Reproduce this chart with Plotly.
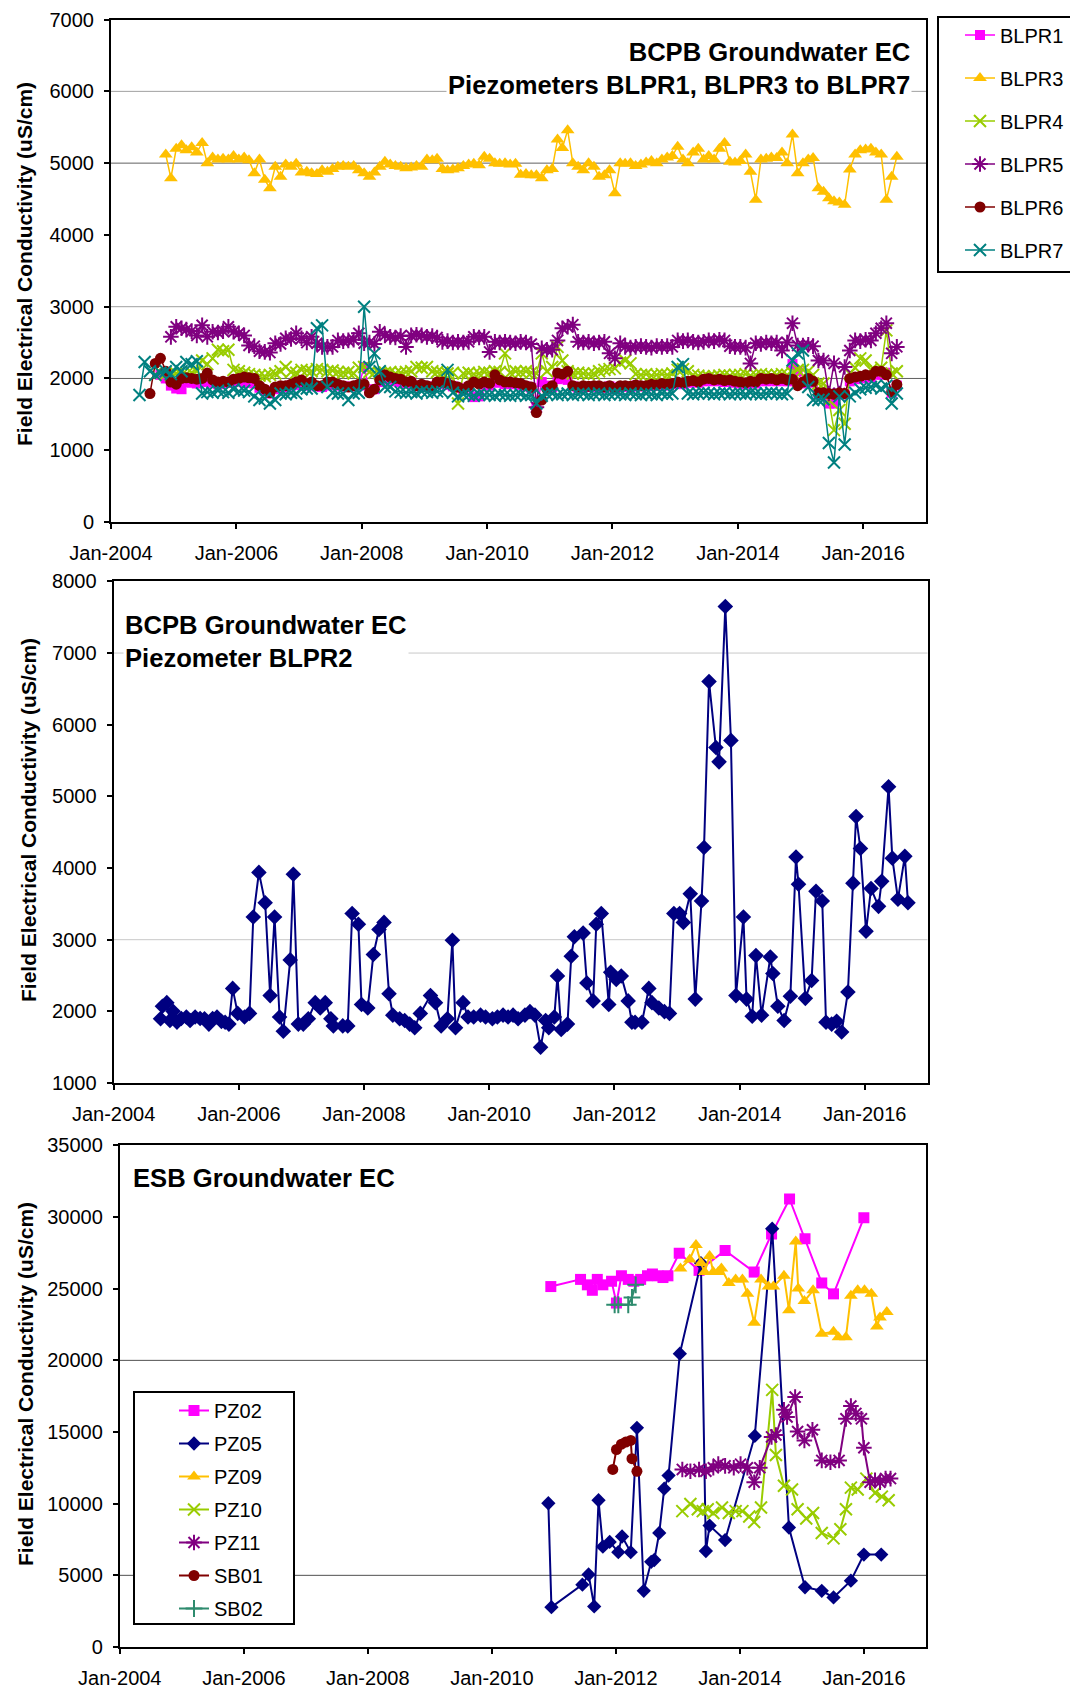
import datetime as dt

import plotly.graph_objects as go

W, H = 1070, 1688
FONT = "Liberation Sans, Arial, sans-serif"

# ---------------------------------------------------------------- data
# panel 1: BCPB piezometers, one reading a month, Jun-2004 .. Jul-2016
months_p1 = [
    f"{y}-{m:02d}-15"
    for y in range(2004, 2017)
    for m in range(1, 13)
    if (2004, 6) <= (y, m) <= (2016, 7)
]

blpr1 = [
    None, None, None, None, 2050, 2000, 1900,
    1860, 1850, 1950, 1940, 1930, 1950, 1950, 1940, 1920, 1930, 1940, 1950,
    1960, 1950, 1940, 1930, 1870, 1830, 1790, 1850, 1870, 1880, 1900, 1910,
    1920, 1900, 1910, 1890, 1880, 1900, 1910, 1900, 1890, 1880, 1890, 1900,
    2160, 1830, 1850, 1950, 1990, 1980, 1960, 1950, 1930, 1940, 1890, 1900,
    1890, 1870, 1920, 1930, 1910, 1890, 1870, 1840, 1880, 1740, 1750, 1920,
    1900, 1950, 1940, 1920, 1930, 1920, 1910, 1890, 1870, 1600, 1950, 1900,
    1880, 1990, 2000, 1980, 1890, 1870, 1880, 1880, 1890, 1880, 1870, 1890,
    1850, 1880, 1890, 1880, 1900, 1890, 1890, 1900, 1900, 1910, 1900, 1920,
    1930, 1920, 1940, 1950, 1940, 1960, 1970, 1960, 1970, 1950, 1960, 1940,
    1930, 1920, 1940, 1930, 1970, 1960, 1970, 1960, 1970, 1960, 2200, 2100,
    1930, 1960, 1940, 1780, 1780, 1650, 1650, 1780, 1780, 1960, 1990, 2000,
    2010, 2020, 2060, 2050, 2080, 1800, 1900,
]
blpr3 = [
    None, None, None, None, None, 5120, 4790,
    5200, 5250, 5180, 5220, 5150, 5280, 5000, 5080, 5050, 5060, 5050, 5100,
    5050, 5080, 5040, 4860, 5050, 4770, 4650, 4950, 4810, 4980, 4950, 4990,
    4870, 4880, 4860, 4850, 4900, 4880, 4920, 4950, 4960, 4950, 4960, 4900,
    4860, 4810, 4870, 4950, 5020, 4980, 4960, 4950, 4930, 4940, 4960, 4950,
    5050, 5040, 5060, 4920, 4900, 4910, 4930, 4960, 4980, 4990, 4970, 5090,
    5060, 5000, 4990, 5000, 4980, 4990, 4840, 4850, 4830, 4830, 4790, 4900,
    4920, 5330, 5210, 5460, 5000, 4950, 4900, 5000, 4950, 4810, 4830, 4900,
    4580, 5000, 4990, 5000, 4960, 4980, 5010, 5030, 5000, 5050, 5080, 5100,
    5230, 5050, 5000, 5150, 5200, 5050, 5100, 5050, 5200, 5280, 5020, 5010,
    5030, 5120, 4880, 4490, 5050, 5060, 5080, 5070, 5150, 5000, 5400, 4860,
    5000, 5050, 5070, 4650, 4600, 4510, 4470, 4450, 4420, 4910, 5120, 5180,
    5190, 5200, 5150, 5120, 4490, 4810, 5090,
]
blpr4 = [
    None, None, None, 2050, 2080, 2060, 2050,
    2070, 2050, 2060, 2080, 2100, 2250, 2200, 2280, 2400, 2380, 2400, 2120,
    2100, 2080, 2060, 2050, 2040, 2030, 2050, 2070, 2100, 2160, 2090, 2080,
    2120, 2110, 2100, 2130, 2120, 2100, 2110, 2090, 2080, 2090, 2070, 2150,
    2160, 2090, 2080, 2070, 2080, 2090, 2070, 2080, 2090, 2100, 2160, 2150,
    2160, 2100, 2090, 2080, 2070, 2080, 1650, 2070, 2080, 2060, 2070, 2090,
    2080, 2100, 2090, 2350, 2080, 2100, 2090, 2100, 2080, 2070, 2350, 2100,
    2160, 2440, 2250, 2100, 2070, 2080, 2070, 2060, 2070, 2100, 2120, 2130,
    2140, 2220, 2250, 2210, 2060, 2050, 2060, 2040, 2050, 2060, 2050, 2070,
    2120, 2130, 2100, 2050, 2040, 2030, 2020, 2030, 2040, 2050, 2040, 2050,
    2050, 2060, 2040, 2050, 2060, 2050, 2040, 2050, 2060, 2050, 2080, 2120,
    2120, 2100, 2050, 1930, 1930, 1700, 1280, 1560, 1370, 2070, 2150, 2280,
    2250, 2120, 2100, 2150, 2670, 2070, 2100,
]
blpr5 = [
    None, None, None, None, None, None, 2580,
    2720, 2700, 2680, 2660, 2600, 2740, 2580, 2650, 2640, 2660, 2720, 2650,
    2630, 2600, 2460, 2450, 2380, 2370, 2360, 2490, 2480, 2560, 2550, 2630,
    2560, 2500, 2580, 2490, 2440, 2440, 2440, 2530, 2520, 2530, 2540, 2630,
    2490, 2500, 2480, 2650, 2600, 2580, 2570, 2590, 2440, 2600, 2610, 2600,
    2580, 2590, 2570, 2510, 2520, 2500, 2510, 2500, 2510, 2580, 2570, 2580,
    2370, 2510, 2500, 2510, 2500, 2490, 2510, 2500, 2480, 1600, 2420, 2400,
    2400, 2530, 2700, 2720, 2750, 2510, 2500, 2510, 2490, 2500, 2510, 2350,
    2280, 2490, 2440, 2430, 2440, 2450, 2440, 2430, 2450, 2440, 2450, 2440,
    2530, 2520, 2530, 2510, 2500, 2510, 2530, 2520, 2540, 2530, 2450, 2440,
    2440, 2430, 2210, 2490, 2480, 2500, 2490, 2500, 2390, 2500, 2770, 2460,
    2460, 2470, 2450, 2250, 2250, 1790, 2210, 1790, 2160, 2390, 2530, 2520,
    2540, 2530, 2630, 2700, 2770, 2350, 2440,
]
blpr6 = [
    None, None, 1790, 2210, 2280, 2100, 1950,
    1920, 2000, 2010, 2000, 1990, 2000, 2075, 1980, 1950, 1960, 1950, 1990,
    2000, 2020, 2010, 2000, 1900, 1850, 1800, 1880, 1900, 1900, 1920, 1950,
    1980, 1920, 1950, 1900, 1900, 1950, 1950, 1920, 1900, 1880, 1900, 1920,
    1920, 1800, 1850, 1980, 2050, 2020, 2000, 1990, 1950, 1960, 1900, 1920,
    1900, 1880, 1950, 1950, 1930, 1900, 1880, 1850, 1900, 1950, 1920, 1950,
    1930, 2050, 1980, 1950, 1950, 1940, 1930, 1900, 1880, 1525, 1700, 1850,
    1900, 2075, 2060, 2100, 1900, 1880, 1900, 1890, 1900, 1900, 1880, 1900,
    1860, 1900, 1900, 1890, 1910, 1900, 1900, 1920, 1910, 1930, 1920, 1930,
    1950, 1940, 1960, 1970, 1950, 1990, 2000, 1980, 1990, 1970, 1980, 1960,
    1950, 1940, 1960, 1950, 2000, 1990, 2000, 1980, 2000, 1980, 1990, 1900,
    1950, 2000, 1960, 1800, 1800, 1790, 1780, 1800, 1790, 2000, 2020, 2030,
    2050, 2040, 2100, 2100, 2050, 1810, 1915,
]
blpr7 = [
    1770, 2230, 2100, 2050, 2080, 2100, 2060,
    2160, 2100, 2230, 2200, 2240, 1790, 1810, 1800, 1830, 1810, 1800, 1850,
    1820, 1830, 1810, 1750, 1700, 1720, 1650, 1700, 1790, 1780, 1800, 1790,
    1850, 1860, 1860, 2700, 2740, 1880, 1800, 1790, 1790, 1700, 1790, 1800,
    3000, 2160, 2350, 2100, 1880, 1880, 1820, 1810, 1800, 1810, 1790, 1820,
    1810, 1800, 1820, 1810, 2120, 1800, 1750, 1780, 1770, 1760, 1780, 1770,
    1770, 1760, 1780, 1770, 1760, 1770, 1780, 1760, 1770, 1650, 1760, 1780,
    1790, 1770, 1780, 1790, 1770, 1780, 1790, 1770, 1780, 1790, 1770, 1780,
    1790, 1780, 1770, 1790, 1780, 1770, 1790, 1780, 1770, 1790, 1780, 1790,
    2160, 2200, 1790, 1780, 1790, 1800, 1790, 1780, 1790, 1800, 1780, 1790,
    1790, 1780, 1800, 1790, 1780, 1790, 1800, 1790, 1780, 1790, 2250, 2350,
    2390, 1880, 1700, 1700, 1710, 1100, 830, 1750, 1080, 1750, 1800, 1850,
    1870, 1880, 1900, 1860, 1900, 1650, 1790,
]

# panel 2: BLPR2, sample times as decimal years
blpr2_t = [
    2004.75, 2004.78, 2004.85, 2004.90, 2004.95, 2005.01, 2005.08, 2005.16,
    2005.22, 2005.30, 2005.38, 2005.45, 2005.52, 2005.58, 2005.65, 2005.72,
    2005.78, 2005.84, 2005.90, 2005.98, 2006.09, 2006.17, 2006.23, 2006.32,
    2006.42, 2006.50, 2006.57, 2006.65, 2006.71, 2006.82, 2006.87, 2006.95,
    2007.03, 2007.11, 2007.22, 2007.30, 2007.38, 2007.47, 2007.51, 2007.66,
    2007.74, 2007.81, 2007.91, 2007.96, 2008.06, 2008.15, 2008.24, 2008.32,
    2008.40, 2008.46, 2008.57, 2008.65, 2008.73, 2008.81, 2008.90, 2009.06,
    2009.14, 2009.23, 2009.33, 2009.41, 2009.46, 2009.58, 2009.66, 2009.75,
    2009.86, 2009.94, 2010.05, 2010.13, 2010.22, 2010.30, 2010.38, 2010.46,
    2010.57, 2010.65, 2010.73, 2010.82, 2010.90, 2010.95, 2011.04, 2011.09,
    2011.15, 2011.25, 2011.31, 2011.36, 2011.50, 2011.56, 2011.66, 2011.71,
    2011.79, 2011.91, 2011.94, 2012.03, 2012.11, 2012.22, 2012.28, 2012.33,
    2012.44, 2012.55, 2012.60, 2012.71, 2012.80, 2012.88, 2012.95, 2013.04,
    2013.10, 2013.21, 2013.29, 2013.39, 2013.43, 2013.51, 2013.62, 2013.67,
    2013.77, 2013.86, 2013.94, 2014.06, 2014.11, 2014.20, 2014.26, 2014.35,
    2014.49, 2014.53, 2014.61, 2014.71, 2014.81, 2014.90, 2014.94, 2015.05,
    2015.15, 2015.22, 2015.32, 2015.38, 2015.47, 2015.55, 2015.63, 2015.73,
    2015.81, 2015.86, 2015.93, 2016.02, 2016.10, 2016.22, 2016.27, 2016.38,
    2016.44, 2016.53, 2016.64, 2016.69,
]
blpr2 = [
    1897, 2071, 2121, 1872, 2000, 1850, 1900, 1922,
    1872, 1922, 1900, 1897, 1822, 1900, 1922, 1860,
    1847, 1822, 2320, 1971, 1922, 1971, 3316, 3939,
    3515, 2220, 3316, 1922, 1722, 2718, 3914, 1822,
    1822, 1897, 2121, 2046, 2121, 1897, 1797, 1797,
    1797, 3366, 3216, 2096, 2046, 2793, 3142, 3241,
    2245, 1947, 1897, 1872, 1822, 1772, 1971, 2220,
    2121, 1797, 1897, 2992, 1772, 2121, 1922, 1922,
    1947, 1922, 1897, 1922, 1947, 1922, 1947, 1897,
    1947, 1996, 1947, 1498, 1872, 1772, 1922, 2494,
    1747, 1822, 2768, 3042, 3092, 2395, 2146, 3216,
    3366, 2096, 2544, 2445, 2494, 2146, 1847, 1847,
    1847, 2320, 2121, 2046, 1996, 1971, 3366, 3366,
    3241, 3640, 2171, 3540, 4287, 6603, 5682, 5482,
    7649, 5781, 2220, 3316, 2171, 1932, 2778, 1947,
    2758, 2529, 2071, 1872, 2210, 4153, 3774, 2181,
    2430, 3675, 3540, 1847, 1822, 1862, 1712, 2270,
    3789, 4720, 4272, 3117, 3714, 3465, 3814, 5134,
    4138, 3565, 4163, 3515,
]

# panel 3: ESB piezometers / bores
pz02_t = [2010.95, 2011.43, 2011.54, 2011.62, 2011.70, 2011.79, 2011.93, 2012.01, 2012.09,
          2012.20, 2012.29, 2012.40, 2012.51, 2012.59, 2012.68, 2012.76, 2012.84, 2013.02,
          2013.34, 2013.76, 2014.23, 2014.51, 2014.80, 2015.05, 2015.32, 2015.51, 2016.00]
pz02 = [25150, 25650, 25270, 24890, 25650, 25270, 25520, 24000, 25900,
        25650, 25520, 25650, 25900, 26030, 25900, 25780, 25900, 27470,
        26280, 27670, 26160, 28810, 31260, 28480, 25400, 24640, 29950]

pz05_t = [2010.91, 2010.96, 2011.46, 2011.56, 2011.65, 2011.72, 2011.79, 2011.90, 2012.04,
          2012.10, 2012.24, 2012.34, 2012.45, 2012.57, 2012.62, 2012.70, 2012.78, 2012.85,
          2013.03, 2013.37, 2013.45, 2013.51, 2013.76, 2014.24, 2014.52, 2014.79, 2015.05,
          2015.32, 2015.51, 2015.79, 2016.00, 2016.28]
pz05 = [10030, 2780, 4350, 5060, 2830, 10240, 7000, 7330, 6620,
        7710, 6620, 15290, 3920, 5940, 6070, 7960, 11050, 11960,
        20470, 26790, 6700, 8470, 7460, 14730, 29190, 8340, 4170,
        3920, 3460, 4630, 6450, 6450]

pz09_t = [2013.04, 2013.19, 2013.29, 2013.37, 2013.43, 2013.51, 2013.57, 2013.65, 2013.70,
          2013.82, 2013.93, 2014.04, 2014.12, 2014.23, 2014.34, 2014.46, 2014.54, 2014.71,
          2014.79, 2014.90, 2014.94, 2015.04, 2015.18, 2015.32, 2015.51, 2015.59, 2015.71,
          2015.79, 2015.90, 2016.01, 2016.12, 2016.21, 2016.26, 2016.37]
pz09 = [26410, 27040, 28050, 26790, 26160, 27290, 26160, 26160, 26410,
        25400, 25650, 25650, 24640, 22620, 25650, 25150, 25150, 25900,
        23500, 28300, 25020, 24140, 24890, 21860, 21990, 21610, 21610,
        24510, 24890, 24890, 24640, 22370, 23000, 23380]

pz10_t = [2013.07, 2013.20, 2013.32, 2013.40, 2013.48, 2013.57, 2013.71, 2013.82, 2013.93,
          2014.04, 2014.15, 2014.23, 2014.34, 2014.52, 2014.58, 2014.71, 2014.84, 2014.93,
          2015.07, 2015.18, 2015.32, 2015.51, 2015.62, 2015.71, 2015.79, 2015.90, 2016.04,
          2016.18, 2016.29, 2016.40]
pz10 = [9480, 9980, 9610, 9480, 9610, 9350, 9730, 9350, 9480,
        9480, 9100, 8720, 9730, 17940, 13400, 11250, 10990, 9610,
        8970, 9350, 7960, 7580, 8220, 9610, 11120, 10990, 11750,
        10740, 10490, 10240]

pz11_t = [2013.07, 2013.20, 2013.34, 2013.45, 2013.57, 2013.65, 2013.76, 2013.90, 2014.01,
          2014.12, 2014.23, 2014.32, 2014.51, 2014.58, 2014.71, 2014.76, 2014.89, 2014.93,
          2015.04, 2015.17, 2015.32, 2015.46, 2015.60, 2015.71, 2015.79, 2015.87, 2015.96,
          2016.00, 2016.10, 2016.18, 2016.26, 2016.35, 2016.43]
pz11 = [12390, 12260, 12390, 12260, 12510, 12760, 12640, 12510, 12760,
        12510, 11500, 12510, 14660, 14790, 16550, 16050, 17440, 15040,
        14410, 15160, 13020, 12890, 13020, 15920, 16810, 16300, 15920,
        13900, 11500, 11630, 11500, 11750, 11750]

sb01_t = [2011.95, 2012.01, 2012.09, 2012.16, 2012.24, 2012.26, 2012.34]
sb01 = [12390, 13780, 14150, 14300, 14410, 13140, 12260]

sb02_t = [2011.98, 2012.04, 2012.20, 2012.26, 2012.32]
sb02 = [23880, 23880, 23880, 24390, 25270]

# ---------------------------------------------------------------- styles
STYLE = {
    "BLPR1": dict(color="#FF00FF", symbol="square", size=10),
    "BLPR3": dict(color="#FFC000", symbol="triangle-up", size=12),
    "BLPR4": dict(color="#99CC00", symbol="x-thin", size=12),
    "BLPR5": dict(color="#800080", symbol="asterisk", size=13),
    "BLPR6": dict(color="#800000", symbol="circle", size=11),
    "BLPR7": dict(color="#008080", symbol="x-thin", size=12),
    "BLPR2": dict(color="#000080", symbol="diamond", size=12),
    "PZ02": dict(color="#FF00FF", symbol="square", size=11),
    "PZ05": dict(color="#000080", symbol="diamond", size=11),
    "PZ09": dict(color="#FFC000", symbol="triangle-up", size=12),
    "PZ10": dict(color="#99CC00", symbol="x-thin", size=12),
    "PZ11": dict(color="#800080", symbol="asterisk", size=13),
    "SB01": dict(color="#800000", symbol="circle", size=11),
    "SB02": dict(color="#2E8B6E", symbol="cross-thin", size=12),
}


def to_date(year):
    y = int(year)
    return dt.datetime(y, 1, 1) + dt.timedelta(days=(year - y) * 365.25)


def px(x):
    return x / W


def py(y):
    return 1 - y / H


fig = go.Figure()


def add_series(x, y, name, xa, ya, legend=None, width=1.5):
    s = STYLE[name]
    stroke = 2 if ("thin" in s["symbol"] or s["symbol"] == "asterisk") else 0
    fig.add_trace(
        go.Scatter(
            x=x,
            y=y,
            name=name,
            mode="lines+markers",
            xaxis=xa,
            yaxis=ya,
            line=dict(color=s["color"], width=width),
            marker=dict(symbol=s["symbol"], size=s["size"], color=s["color"],
                        line=dict(color=s["color"], width=stroke)),
            showlegend=legend is not None,
            legend=legend or "legend",
            legendgroup=name,
        )
    )


for name, vals in [("BLPR1", blpr1), ("BLPR3", blpr3), ("BLPR4", blpr4),
                   ("BLPR5", blpr5), ("BLPR6", blpr6), ("BLPR7", blpr7)]:
    add_series(months_p1, vals, name, "x", "y", legend="legend")

add_series([to_date(t) for t in blpr2_t], blpr2, "BLPR2", "x2", "y2", width=2)

for name, ts, vals in [("PZ02", pz02_t, pz02), ("PZ05", pz05_t, pz05), ("PZ09", pz09_t, pz09),
                       ("PZ10", pz10_t, pz10), ("PZ11", pz11_t, pz11), ("SB01", sb01_t, sb01),
                       ("SB02", sb02_t, sb02)]:
    add_series([to_date(t) for t in ts], vals, name, "x3", "y3", legend="legend2", width=2)

tickfont = dict(family=FONT, size=20, color="black")
frame = dict(showline=True, linecolor="black", linewidth=2, mirror=True, ticks="outside",
             ticklen=5, tickwidth=1.5, tickcolor="black", showgrid=False, zeroline=False,
             tickfont=tickfont)
xdate = dict(type="date", range=["2004-01-01", "2017-01-01"], tick0="2004-01-01", dtick="M24",
             tickformat="%b-%Y", ticklabelstandoff=7, **frame)
yval = dict(tickformat="d", ticklabelstandoff=6, **frame)

fig.update_layout(
    width=W,
    height=H,
    margin=dict(l=0, r=0, t=0, b=0, autoexpand=False),
    paper_bgcolor="white",
    plot_bgcolor="white",
    font=dict(family=FONT, color="black"),
    xaxis=dict(domain=[px(111), px(926)], anchor="y", **xdate),
    yaxis=dict(domain=[py(522), py(19.6)], anchor="x", range=[0, 7000], dtick=1000, **yval),
    xaxis2=dict(domain=[px(113.6), px(927.5)], anchor="y2", **xdate),
    yaxis2=dict(domain=[py(1083), py(581.4)], anchor="x2", range=[1000, 8000], dtick=1000, **yval),
    xaxis3=dict(domain=[px(119.8), px(926)], anchor="y3", **xdate),
    yaxis3=dict(domain=[py(1647), py(1145.4)], anchor="x3", range=[0, 35000], dtick=5000, **yval),
    legend=dict(x=px(960), y=py(15.5), xanchor="left", yanchor="top", bgcolor="rgba(0,0,0,0)",
                borderwidth=0, tracegroupgap=14, font=dict(family=FONT, size=20, color="black")),
    legend2=dict(x=px(174), y=py(1391), xanchor="left", yanchor="top", bgcolor="rgba(0,0,0,0)",
                 borderwidth=0, tracegroupgap=4, font=dict(family=FONT, size=20, color="black")),
)

# horizontal gridlines that are visible in the original
grid = [("y", 2000, "#606060"), ("y", 3000, "#a0a0a0"), ("y", 5000, "#606060"), ("y", 6000, "#a0a0a0"),
        ("y2", 3000, "#c8c8c8"), ("y2", 7000, "#c8c8c8"),
        ("y3", 5000, "#505050"), ("y3", 20000, "#505050")]
for ya, val, col in grid:
    xa = "x" + ya[1:]
    fig.add_shape(type="line", xref=f"{xa} domain", yref=ya, x0=0, x1=1, y0=val, y1=val,
                  line=dict(color=col, width=1), layer="below")

# legend frames
fig.add_shape(type="rect", xref="paper", yref="paper", x0=px(938), x1=px(1085), y0=py(272), y1=py(17),
              line=dict(color="black", width=2), fillcolor="white", layer="above")
fig.add_shape(type="rect", xref="paper", yref="paper", x0=px(134), x1=px(294), y0=py(1624), y1=py(1392),
              line=dict(color="black", width=2), fillcolor="white", layer="above")

title_font = dict(family=FONT, size=25.6, color="black", weight="bold")
fig.add_annotation(xref="paper", yref="paper", x=px(912), y=py(68), xanchor="right", yanchor="middle",
                   text="BCPB Groundwater EC<br>Piezometers BLPR1, BLPR3 to BLPR7", align="right",
                   showarrow=False, font=title_font, bgcolor="white")
fig.add_annotation(xref="paper", yref="paper", x=px(123), y=py(642), xanchor="left", yanchor="middle",
                   text="BCPB Groundwater EC<br>Piezometer BLPR2", align="left",
                   showarrow=False, font=title_font, bgcolor="white")
fig.add_annotation(xref="paper", yref="paper", x=px(131), y=py(1178), xanchor="left", yanchor="middle",
                   text="ESB Groundwater EC", align="left", showarrow=False, font=title_font)

ytitle = "Field Electrical Conductivity (uS/cm)"
for xc, yc in [(25, 264), (29, 820), (25, 1384)]:
    fig.add_annotation(xref="paper", yref="paper", x=px(xc), y=py(yc), xanchor="center",
                       yanchor="middle", text=ytitle, textangle=-90, showarrow=False,
                       font=dict(family=FONT, size=21, color="black", weight="bold"))

fig.write_html("out.html", config={"displayModeBar": False},
               post_script="document.body.style.margin='0';")
